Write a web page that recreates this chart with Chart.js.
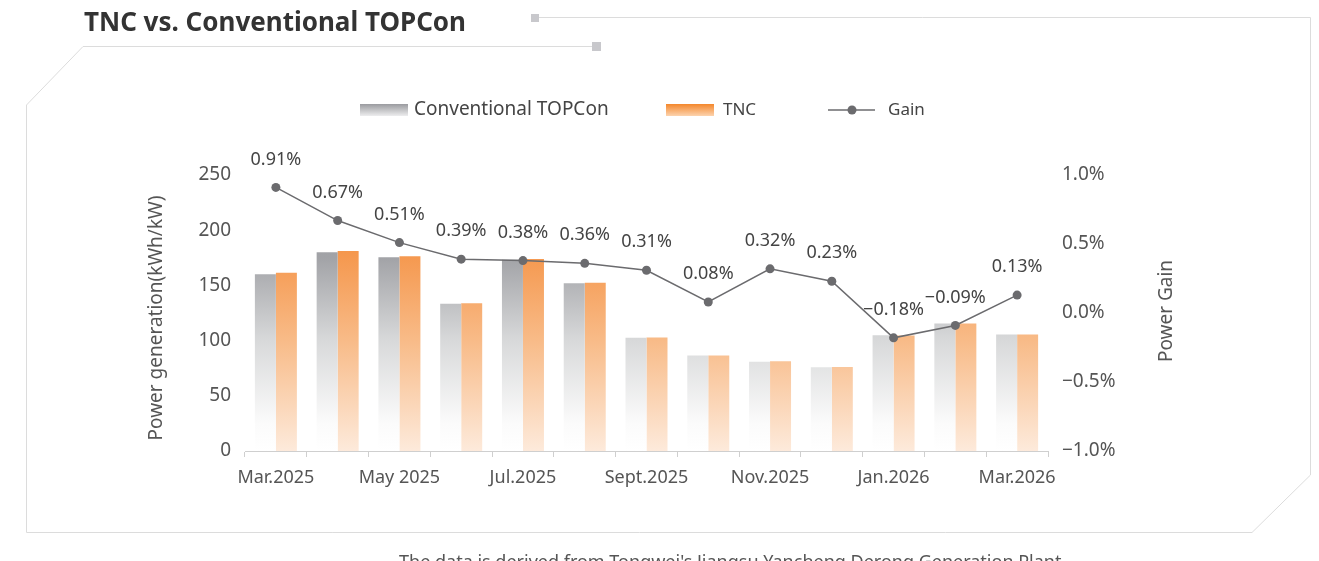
<!DOCTYPE html>
<html>
<head>
<meta charset="utf-8">
<title>TNC vs. Conventional TOPCon</title>
<script src="https://cdn.jsdelivr.net/npm/chart.js@4.4.1/dist/chart.umd.min.js"></script>
<style>
  html, body { margin: 0; padding: 0; background: #fff; overflow: hidden; }
  #wrap { position: relative; width: 1319px; height: 561px; }
  #chart-box { position: absolute; left: 0; top: 0; width: 1319px; height: 561px; }
  .title {
    position: absolute; left: 84px; top: 8px; margin: 0;
    font: bold 26px/26px "Noto Sans", sans-serif; color: #333; white-space: nowrap;
  }
  .note {
    position: absolute; left: 399px; top: 552px;
    font: 18px/18px "Noto Sans", sans-serif; color: #555; white-space: nowrap;
  }
</style>
</head>
<body>
<div id="wrap">
  <div id="chart-box"><canvas id="gain-chart"></canvas></div>
  <h1 class="title">TNC vs. Conventional TOPCon</h1>
  <div class="note">The data is derived from Tongwei's Jiangsu Yancheng Derong Generation Plant</div>
</div>
<script>
// Datos mensuales (kWh/kW) y ganancia (%)
const months = ['Mar.2025', 'Apr.2025', 'May 2025', 'Jun.2025', 'Jul.2025', 'Aug.2025', 'Sept.2025',
                'Oct.2025', 'Nov.2025', 'Dec.2025', 'Jan.2026', 'Feb.2026', 'Mar.2026'];
const conventional = [160.0, 180.0, 175.5, 133.3, 173.2, 152.0, 102.5, 86.4, 80.9, 75.8, 104.8, 115.6, 105.5];
const tnc = [161.5, 181.2, 176.4, 133.8, 173.9, 152.5, 102.8, 86.5, 81.2, 76.0, 104.6, 115.5, 105.6];
const gain = [0.91, 0.67, 0.51, 0.39, 0.38, 0.36, 0.31, 0.08, 0.32, 0.23, -0.18, -0.09, 0.13];

const MINUS = '\u2212';
const textColor = '#555';
const lineColor = '#6b6b6e';

Chart.defaults.font.family = '"Noto Sans", sans-serif';
Chart.defaults.color = textColor;

function fmtPct(v, digits) {
    const s = Math.abs(v).toFixed(digits) + '%';
    return v < 0 ? MINUS + s : s;
}

// Degradados verticales fijados al área del gráfico
const gradCache = {};
function barGradient(chart, stops, key) {
    const area = chart.chartArea;
    if (!area) return stops[0][1];
    const id = key + area.top + '-' + area.bottom;
    if (!gradCache[id]) {
        const g = chart.ctx.createLinearGradient(0, area.top, 0, area.bottom);
        stops.forEach(s => g.addColorStop(s[0], s[1]));
        gradCache[id] = g;
    }
    return gradCache[id];
}
const grayStops = [[0, '#9a9b9f'], [0.3, '#a2a3a7'], [0.6, '#d8d9da'], [0.9, '#fbfbfb'], [1, '#ffffff']];
const orangeStops = [[0, '#f48f3c'], [0.27, '#f5964b'], [0.6, '#f8bb88'], [1, '#fdeadb']];

// Marco decorativo
const framePlugin = {
    id: 'frame',
    beforeDraw(chart) {
        const ctx = chart.ctx;
        ctx.save();
        ctx.strokeStyle = '#dcdcdc';
        ctx.lineWidth = 1;
        ctx.beginPath();
        ctx.moveTo(535, 17.5); ctx.lineTo(1310.5, 17.5); ctx.lineTo(1310.5, 475);
        ctx.lineTo(1252, 532.5); ctx.lineTo(26.5, 532.5); ctx.lineTo(26.5, 105);
        ctx.lineTo(83, 46.5); ctx.lineTo(597, 46.5);
        ctx.stroke();
        ctx.fillStyle = '#c8c8cc';
        ctx.fillRect(531, 14, 8, 8);
        ctx.fillRect(592, 42, 9, 9);
        ctx.restore();
    }
};

// Leyenda personalizada
const legendPlugin = {
    id: 'customLegend',
    afterDraw(chart) {
        const ctx = chart.ctx;
        const ds = chart.data.datasets;
        const y = 110;
        ctx.save();
        ctx.textBaseline = 'middle';

        let g = ctx.createLinearGradient(0, 104, 0, 116);
        g.addColorStop(0, '#9a9b9f'); g.addColorStop(1, '#ededee');
        ctx.fillStyle = g;
        ctx.fillRect(360, 104, 48, 12);
        ctx.fillStyle = '#444';
        ctx.font = '19px "Noto Sans", sans-serif';
        ctx.fillText(ds[0].label, 414, y);

        g = ctx.createLinearGradient(0, 104, 0, 116);
        g.addColorStop(0, '#f4872c'); g.addColorStop(1, '#fcd3ae');
        ctx.fillStyle = g;
        ctx.fillRect(666, 104, 48, 12);
        ctx.fillStyle = '#444';
        ctx.font = '17px "Noto Sans", sans-serif';
        ctx.fillText(ds[1].label, 723, y);

        ctx.strokeStyle = lineColor;
        ctx.lineWidth = 1.5;
        ctx.beginPath(); ctx.moveTo(828, y); ctx.lineTo(875, y); ctx.stroke();
        ctx.fillStyle = lineColor;
        ctx.beginPath(); ctx.arc(852, y, 4.5, 0, Math.PI * 2); ctx.fill();
        ctx.fillStyle = '#444';
        ctx.fillText(ds[2].label, 888, y);
        ctx.restore();
    }
};

// Títulos de los ejes, girados de abajo arriba
const axisTitles = {
    id: 'axisTitles',
    afterDraw(chart) {
        const ctx = chart.ctx;
        const draw = (text, x, y) => {
            ctx.save();
            ctx.translate(x, y);
            ctx.rotate(-Math.PI / 2);
            ctx.font = '19px "Noto Sans", sans-serif';
            ctx.fillStyle = textColor;
            ctx.textAlign = 'center';
            ctx.textBaseline = 'middle';
            ctx.fillText(text, 0, 0);
            ctx.restore();
        };
        draw('Power generation(kWh/kW)', 157, 318);
        draw('Power Gain', 1167, 311);
    }
};

// Etiquetas de porcentaje sobre los puntos de la línea
const gainLabels = {
    id: 'gainLabels',
    afterDatasetsDraw(chart) {
        const ctx = chart.ctx;
        const meta = chart.getDatasetMeta(2);
        const values = chart.data.datasets[2].data;
        ctx.save();
        ctx.font = '18px "Noto Sans", sans-serif';
        ctx.fillStyle = '#444';
        ctx.textAlign = 'center';
        ctx.textBaseline = 'middle';
        meta.data.forEach((pt, i) => {
            ctx.fillText(fmtPct(values[i], 2), pt.x, pt.y - 28);
        });
        ctx.restore();
    }
};

new Chart(document.getElementById('gain-chart'), {
    type: 'bar',
    data: {
        labels: months,
        datasets: [
            {
                label: 'Conventional TOPCon',
                data: conventional,
                yAxisID: 'y',
                backgroundColor: ctx => barGradient(ctx.chart, grayStops, 'gray'),
                barPercentage: 1,
                categoryPercentage: 0.68,
                order: 1
            },
            {
                label: 'TNC',
                data: tnc,
                yAxisID: 'y',
                backgroundColor: ctx => barGradient(ctx.chart, orangeStops, 'orange'),
                barPercentage: 1,
                categoryPercentage: 0.68,
                order: 1
            },
            {
                type: 'line',
                label: 'Gain',
                data: gain,
                yAxisID: 'y1',
                borderColor: lineColor,
                backgroundColor: lineColor,
                borderWidth: 1.5,
                pointRadius: 4.5,
                pointBackgroundColor: lineColor,
                pointBorderWidth: 0,
                tension: 0,
                order: 0
            }
        ]
    },
    options: {
        responsive: true,
        maintainAspectRatio: false,
        animation: false,
        layout: { padding: { top: 175, left: 140, right: 138, bottom: 70 } },
        plugins: {
            legend: { display: false },
            tooltip: { enabled: false }
        },
        scales: {
            x: {
                offset: true,
                grid: { display: true, drawOnChartArea: false, drawTicks: true, tickLength: 6, color: '#cfcfcf', offset: true },
                border: { color: '#cfcfcf' },
                ticks: {
                    autoSkip: false,
                    maxRotation: 0,
                    padding: 10,
                    color: textColor,
                    font: { size: 18 },
                    callback: (v, i) => (i % 2 === 0 ? months[i] : '')
                },
                afterFit: s => { s.height = 40; }
            },
            y: {
                position: 'left',
                min: 0,
                max: 250,
                grid: { display: false, drawTicks: false },
                border: { display: false },
                ticks: { stepSize: 50, padding: 14, color: textColor, font: { size: 19 } },
                afterFit: s => { s.width = 105; }
            },
            y1: {
                position: 'right',
                min: -1,
                max: 1,
                grid: { display: false, drawTicks: false },
                border: { display: false },
                ticks: {
                    stepSize: 0.5,
                    padding: 14,
                    color: textColor,
                    font: { size: 19 },
                    callback: v => fmtPct(v, 1)
                },
                afterFit: s => { s.width = 133; }
            }
        }
    },
    plugins: [framePlugin, legendPlugin, axisTitles, gainLabels]
});
</script>
</body>
</html>
